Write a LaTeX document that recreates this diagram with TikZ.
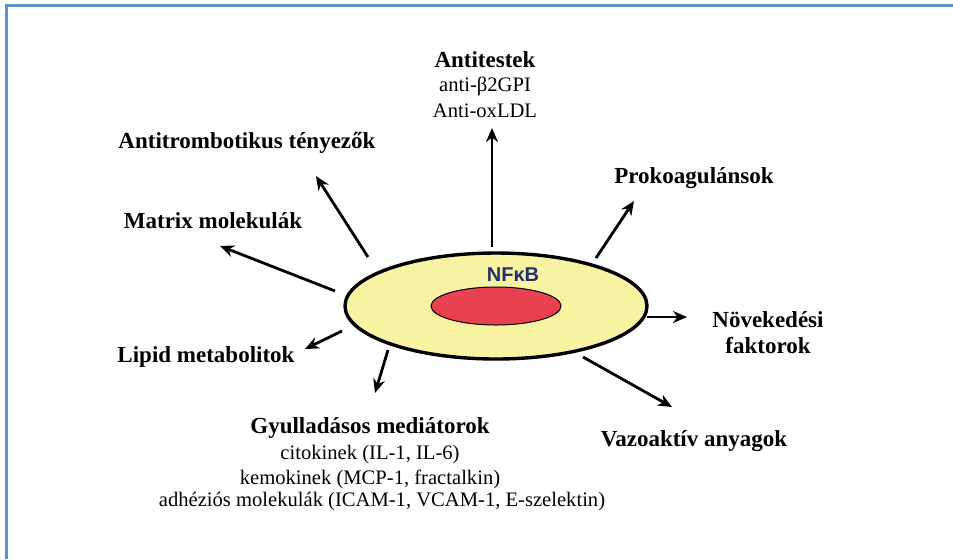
\documentclass[tikz,border=0pt]{standalone}
\usepackage{fontspec}
\setmainfont{Liberation Serif}
\newfontfamily\nfkbfont{Liberation Sans}
\usepackage{xcolor}
\usetikzlibrary{arrows.meta,shapes.geometric}
\definecolor{cellyellow}{HTML}{F8F3A2}
\definecolor{nucleusred}{HTML}{E8414F}
\definecolor{nfkbblue}{HTML}{233070}
\definecolor{frameblue}{HTML}{5B93CC}
\tikzset{
  head/.style={font=\fontsize{11.5}{13}\selectfont\bfseries, inner sep=0pt},
  sub/.style={font=\fontsize{10.3}{12}\selectfont, inner sep=0pt},
  effect/.style={-{Stealth[length=7pt,width=6pt]}, line width=1.4pt},
}
\begin{document}
\begin{tikzpicture}[x=0.5pt,y=-0.5pt]
\useasboundingbox (0,0) rectangle (953,559);
% frame
\draw[frameblue, line width=1.5pt](6,559)--(6,5)--(953,5);
% cell and nucleus
\node[ellipse, draw, line width=1.7pt, fill=cellyellow, minimum width=151pt, minimum height=53pt, inner sep=0pt](cell) at (496,306){};
\node[ellipse, draw, line width=0.5pt, fill=nucleusred, minimum width=65pt, minimum height=19pt, inner sep=0pt](nucleus) at (496,306){};
\node[font=\nfkbfont\bfseries\fontsize{10}{12}\selectfont, text=nfkbblue, inner sep=0pt](nfkb) at (513,275){NFκB};
% labels
\node[head](antitestek) at (485,60){Antitestek};
\node[sub](b2gpi) at (485,86){anti-β2GPI};
\node[sub](oxldl) at (485,111){Anti-oxLDL};
\node[head](antitromb) at (247,143){Antitrombotikus tényezők};
\node[head](matrix) at (213,221){Matrix molekulák};
\node[head](prokoag) at (694,178){Prokoagulánsok};
\node[head](novek) at (768,320){Növekedési};
\node[head](faktor) at (768,346){faktorok};
\node[head](lipid) at (206,357){Lipid metabolitok};
\node[head](vazo) at (694,441){Vazoaktív anyagok};
\node[head](gyull) at (370,428){Gyulladásos mediátorok};
\node[sub](citok) at (370,455){citokinek (IL-1, IL-6)};
\node[sub](kemok) at (370,479){kemokinek (MCP-1, fractalkin)};
\node[sub](adhez) at (382,502){adhéziós molekulák (ICAM-1, VCAM-1, E-szelektin)};
% arrow ends
\coordinate(up0) at (492,247); \coordinate(up1) at (492,128);
\coordinate(at0) at (368,257); \coordinate(at1) at (316,176);
\coordinate(mx0) at (335,291); \coordinate(mx1) at (220,246);
\coordinate(pk0) at (596,258); \coordinate(pk1) at (634,201);
\coordinate(nv0) at (647,317); \coordinate(nv1) at (687,317);
\coordinate(lp0) at (342,331); \coordinate(lp1) at (305,349);
\coordinate(gy0) at (388,350); \coordinate(gy1) at (375,393);
\coordinate(vz0) at (583,357); \coordinate(vz1) at (672,407);
% arrows
\draw[effect](up0)--(up1);
\draw[effect](at0)--(at1);
\draw[effect](mx0)--(mx1);
\draw[effect](pk0)--(pk1);
\draw[effect](nv0)--(nv1);
\draw[effect](lp0)--(lp1);
\draw[effect](gy0)--(gy1);
\draw[effect](vz0)--(vz1);
\end{tikzpicture}
\end{document}
